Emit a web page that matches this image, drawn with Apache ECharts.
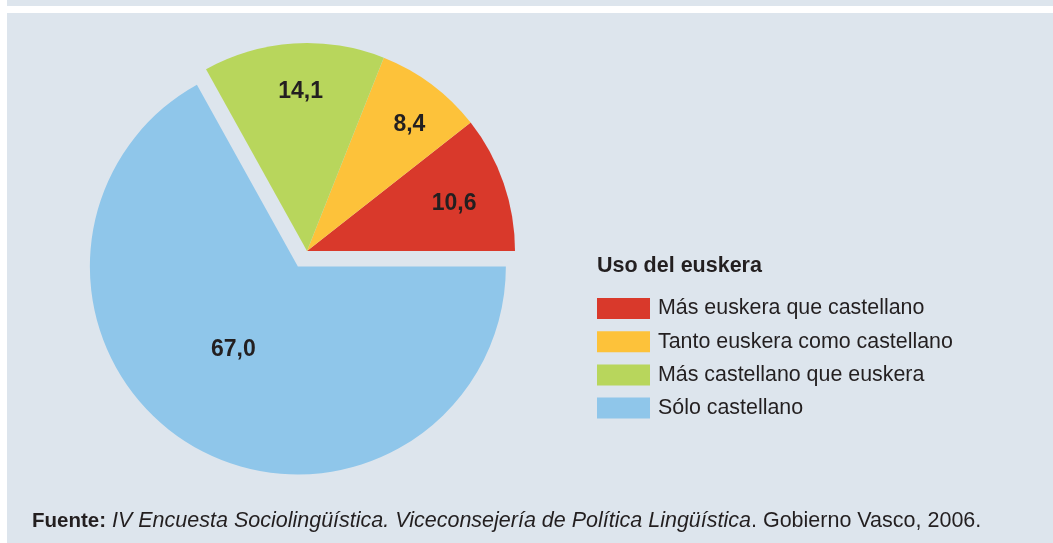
<!DOCTYPE html>
<html>
<head>
<meta charset="utf-8">
<script src="https://cdn.jsdelivr.net/npm/echarts@6/dist/echarts.min.js"></script>
<style>
  html, body { margin: 0; padding: 0; background: #ffffff; }
  #strip { position: absolute; left: 7px; top: 0; width: 1046px; height: 6px; background: #dde5ed; }
  #panel { position: absolute; left: 7px; top: 13px; width: 1046px; height: 530px; background: #dde5ed; }
  #chart { position: absolute; left: 0; top: 0; width: 1053px; height: 543px; }
</style>
</head>
<body>
<div id="strip"></div>
<div id="panel"></div>
<div id="chart"></div>
<script>
const categories = ['Más euskera que castellano', 'Tanto euskera como castellano', 'Más castellano que euskera', 'Sólo castellano'];
const values = [10.6, 8.4, 14.1, 67.0];
const colors = ['#d9392b', '#fdc23a', '#b8d65c', '#8fc6ea'];
const legendTitle = 'Uso del euskera';
const sourceLabel = 'Fuente:';
const sourceItalic = 'IV Encuesta Sociolingüística. Viceconsejería de Política Lingüística';
const sourceRest = '. Gobierno Vasco, 2006.';

const FONT = '"Liberation Sans", Arial, Helvetica, sans-serif';
const TXT = '#231f20';
const fmt = v => v.toFixed(1).replace('.', ',');

// fine nudges for the value labels (style only): [dx, dy] in px
const labelNudge = [[-5, 5], [6, 3], [4, 1], [8, -40]];
function nudgePadding(n) {
  const dx = n[0], dy = n[1];
  return [Math.max(0, 2 * dy), Math.max(0, -2 * dx), Math.max(0, -2 * dy), Math.max(0, 2 * dx)];
}
const labelRich = {};
labelNudge.forEach((n, i) => {
  labelRich['v' + i] = {
    fontFamily: FONT, fontSize: 23, fontWeight: 'bold', color: TXT,
    padding: nudgePadding(n)
  };
});

const chart = echarts.init(document.getElementById('chart'), null, { renderer: 'canvas' });

const pieData = categories.map((c, i) => ({
  name: c,
  value: values[i],
  selected: i === 3,
  itemStyle: { color: colors[i] }
}));

const labelData = categories.map((c, i) => ({ name: c, value: values[i] }));

chart.setOption({
  animation: false,
  backgroundColor: 'transparent',
  title: [
    {
      text: legendTitle,
      left: 597, top: 255,
      padding: 0,
      textStyle: { fontFamily: FONT, fontSize: 21.5, fontWeight: 'bold', color: TXT }
    },
    {
      text: '{b|' + sourceLabel + '} {i|' + sourceItalic + '}{r|' + sourceRest + '}',
      left: 32, top: 510,
      padding: 0,
      textStyle: {
        fontFamily: FONT, fontSize: 21.5, fontWeight: 'normal', color: TXT,
        rich: {
          b: { fontFamily: FONT, fontSize: 20.5, fontWeight: 'bold', color: TXT },
          i: { fontFamily: FONT, fontSize: 21.5, fontWeight: 'normal', fontStyle: 'italic', color: TXT },
          r: { fontFamily: FONT, fontSize: 21.5, fontWeight: 'normal', color: TXT }
        }
      }
    }
  ],
  legend: {
    orient: 'vertical',
    left: 597, top: 298,
    padding: 0,
    icon: 'rect',
    itemWidth: 53,
    itemHeight: 21,
    itemGap: 12.2,
    selectedMode: false,
    data: categories,
    textStyle: { fontFamily: FONT, fontSize: 21.4, color: TXT, lineHeight: 21, padding: [0, 0, 0, 3] }
  },
  series: [
    {
      type: 'pie',
      center: [307, 251],
      radius: [0, 208],
      startAngle: 0,
      clockwise: false,
      selectedMode: 'single',
      selectedOffset: 18,
      silent: true,
      label: { show: false },
      labelLine: { show: false },
      itemStyle: { borderWidth: 0 },
      emphasis: { disabled: true },
      data: pieData
    },
    {
      type: 'pie',
      center: [307, 251],
      radius: [100, 216],
      startAngle: 0,
      clockwise: false,
      silent: true,
      itemStyle: { color: 'rgba(0,0,0,0)', borderWidth: 0 },
      emphasis: { disabled: true },
      labelLine: { show: false },
      label: {
        show: true,
        position: 'inside',
        formatter: p => '{v' + p.dataIndex + '|' + fmt(p.value) + '}',
        rich: labelRich
      },
      data: labelData
    }
  ]
});
</script>
</body>
</html>
